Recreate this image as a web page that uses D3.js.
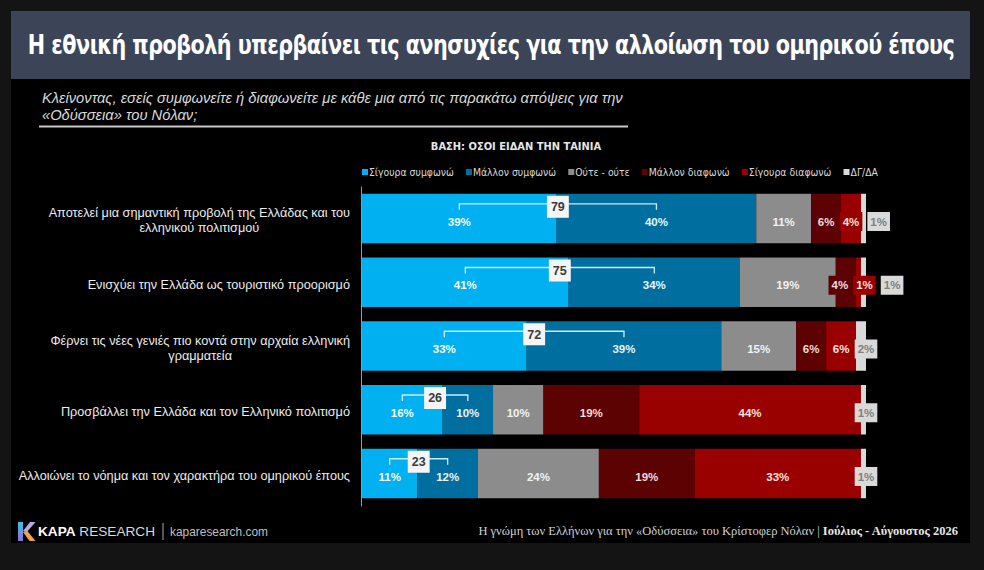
<!DOCTYPE html>
<html><head><meta charset="utf-8">
<script src="https://cdn.jsdelivr.net/npm/d3@7"></script>
<style>html,body{margin:0;padding:0;background:#141414;} svg{display:block}</style>
</head><body>
<svg id="c" width="984" height="570"></svg>
<script>
// ---------- DATA ----------
const categories = [
  "Αποτελεί μια σημαντική προβολή της Ελλάδας και του\nελληνικού πολιτισμού",
  "Ενισχύει την Ελλάδα ως τουριστικό προορισμό",
  "Φέρνει τις νέες γενιές πιο κοντά στην αρχαία ελληνική\nγραμματεία",
  "Προσβάλλει την Ελλάδα και τον Ελληνικό πολιτισμό",
  "Αλλοιώνει το νόημα και τον χαρακτήρα του ομηρικού έπους"
];
const seriesNames = ["Σίγουρα συμφωνώ", "Μάλλον συμφωνώ", "Ούτε - ούτε", "Μάλλον διαφωνώ", "Σίγουρα διαφωνώ", "ΔΓ/ΔΑ"];
const sureAgree      = [39, 41, 33, 16, 11];
const ratherAgree    = [40, 34, 39, 10, 12];
const neither        = [11, 19, 15, 10, 24];
const ratherDisagree = [6, 4, 6, 19, 19];
const sureDisagree   = [4, 1, 6, 44, 33];
const dkna           = [1, 1, 2, 1, 1];
const agreeTotal     = [79, 75, 72, 26, 23];

const titleText = "Η εθνική προβολή υπερβαίνει τις ανησυχίες για την αλλοίωση του ομηρικού έπους";
const questionLines = ["Κλείνοντας, εσείς συμφωνείτε ή διαφωνείτε με κάθε μια από τις παρακάτω απόψεις για την",
                       "«Οδύσσεια» του Νόλαν;"];
const baseText = "ΒΑΣΗ: ΟΣΟΙ ΕΙΔΑΝ ΤΗΝ ΤΑΙΝΙΑ";
const footerLeft = "Η γνώμη των Ελλήνων για την «Οδύσσεια» του Κρίστοφερ Νόλαν | ";
const footerRight = "Ιούλιος - Αύγουστος 2026";

// ---------- STYLE ----------
const colors = ["#00b0f0", "#006f9f", "#8c8c8c", "#5c0202", "#990000", "#d9d9d9"];
const labelColors = ["#f4fbff", "#e8f4fa", "#f2f2f2", "#f3dada", "#f7e0e0", "#808080"];
const condFont = "'DejaVu Sans Condensed','Liberation Sans Narrow',sans-serif";

const svg = d3.select("#c");
const W = 984, H = 570;

function fit(sel, target) {
  const w = sel.node().getComputedTextLength();
  const fs = parseFloat(sel.attr("font-size"));
  sel.attr("font-size", fs * target / w);
}
// horizontal squeeze keeping glyph height
function squeeze(sel, target, ax, ay) {
  const w = sel.node().getComputedTextLength();
  const f = Math.min(1, target / w);
  sel.attr("transform", `translate(${ax},${ay}) scale(${f},1) translate(${-ax},${-ay})`);
  return f;
}

// background slide
svg.append("rect").attr("width", W).attr("height", H).attr("fill", "#141414");
svg.append("rect").attr("x", 11).attr("y", 11).attr("width", 959).attr("height", 532).attr("fill", "#000");
svg.append("rect").attr("x", 11).attr("y", 11).attr("width", 959).attr("height", 68).attr("fill", "#3b4557");

const title = svg.append("text").attr("x", 491).attr("y", 54).attr("text-anchor", "middle")
  .attr("font-family", condFont).attr("font-weight", "bold").attr("font-size", 27)
  .attr("letter-spacing", -0.6).attr("fill", "#ffffff").text(titleText);
squeeze(title, 927, 491, 54);

const q0 = svg.append("text").attr("x", 42).attr("y", 103)
  .attr("font-family", "'Liberation Sans',Arial,sans-serif").attr("font-style", "italic")
  .attr("font-size", 13).attr("fill", "#d9d9d9").text(questionLines[0]);
fit(q0, 581);
const qfs = q0.attr("font-size");
svg.append("text").attr("x", 42).attr("y", 120)
  .attr("font-family", "'Liberation Sans',Arial,sans-serif").attr("font-style", "italic")
  .attr("font-size", qfs).attr("fill", "#d9d9d9").text(questionLines[1]);
svg.append("line").attr("x1", 39).attr("x2", 628).attr("y1", 126.5).attr("y2", 126.5)
  .attr("stroke", "#c8c8c8").attr("stroke-width", 2);

const base = svg.append("text").attr("x", 516).attr("y", 150).attr("text-anchor", "middle")
  .attr("font-family", condFont).attr("font-weight", "bold").attr("font-size", 11)
  .attr("fill", "#e6e6e6").text(baseText);
squeeze(base, 172, 516, 150);

// legend
const legend = svg.append("g");
const legTexts = seriesNames.map(n => legend.append("text").attr("y", 176)
  .attr("font-family", condFont).attr("font-size", 11).attr("fill", "#d9d9d9").text(n));
const legW = legTexts.map(t => t.node().getComputedTextLength());
const sqW = 6, sqGap = 1, itemGap = 12;
const fixed = seriesNames.length * (sqW + sqGap) + (seriesNames.length - 1) * itemGap;
const lf = Math.min(1, (516 - fixed) / d3.sum(legW));
let lx = 362;
seriesNames.forEach((n, i) => {
  legend.append("rect").attr("x", lx).attr("y", 169).attr("width", sqW).attr("height", sqW).attr("fill", colors[i]);
  const tx = lx + sqW + sqGap;
  legTexts[i].attr("x", tx).attr("transform", `translate(${tx},0) scale(${lf},1) translate(${-tx},0)`);
  lx = tx + legW[i] * lf + itemGap;
});

// ---------- CHART ----------
const table = categories.map((c, i) => ({
  cat: c, s0: sureAgree[i], s1: ratherAgree[i], s2: neither[i], s3: ratherDisagree[i], s4: sureDisagree[i], s5: dkna[i]
}));
const keys = ["s0", "s1", "s2", "s3", "s4", "s5"];
const stacked = d3.stack().keys(keys).offset(d3.stackOffsetExpand)(table);

const x = d3.scaleLinear().domain([0, 1]).range([362, 866]);
const y = d3.scaleBand().domain(categories).range([186, 506]).paddingInner(0.224).paddingOuter(0.122);
const bw = y.bandwidth();

// axis (vertical line)
const axis = svg.append("g").attr("transform", "translate(361,0)")
  .call(d3.axisLeft(y).tickSize(0).tickFormat(""));
axis.select(".domain").attr("stroke", "#9a9a9a").attr("stroke-width", 1);

// bars
stacked.forEach((layer, k) => {
  svg.append("g").selectAll("rect").data(layer).join("rect")
    .attr("x", d => x(d[0])).attr("y", d => y(d.data.cat))
    .attr("width", d => Math.max(0, x(d[1]) - x(d[0]))).attr("height", bw)
    .attr("fill", colors[k]);
});

// category labels
categories.forEach(c => {
  const lines = c.split("\n");
  const g = svg.append("g");
  const ts = lines.map(l => g.append("text").attr("font-family", "'Liberation Sans',Arial,sans-serif")
    .attr("font-size", 12.7).attr("fill", "#ececec").attr("text-anchor", "middle").text(l));
  const maxW = d3.max(ts, t => t.node().getComputedTextLength());
  const cx = 350 - maxW / 2;
  const cy = y(c) + bw / 2 + 2;
  const lh = 15;
  ts.forEach((t, i) => t.attr("x", cx).attr("y", cy + (i - (lines.length - 1) / 2) * lh).attr("dy", "0.35em"));
});

// value labels
const lblFont = "'Liberation Sans',Arial,sans-serif";
categories.forEach((c, r) => {
  const yc = y(c) + bw / 2 + 3;
  const labs = [];
  keys.forEach((k, s) => {
    const seg = stacked[s][r];
    const val = table[r][k];
    const g = svg.append("g");
    const rect = g.append("rect");
    const t = g.append("text").attr("font-family", lblFont).attr("font-weight", "bold")
      .attr("font-size", 11.5).attr("text-anchor", "middle").attr("dy", "0.35em")
      .attr("fill", labelColors[s]).text(val + "%");
    const tw = t.node().getComputedTextLength();
    const segW = x(seg[1]) - x(seg[0]);
    const isDk = s === 5;
    labs.push({g, rect, t, tw, w: tw + 6, x: isDk ? x(1) : (x(seg[0]) + x(seg[1])) / 2,
      box: isDk || tw + 4 > segW, dk: isDk, color: colors[s]});
  });
  // resolve collisions
  for (let it = 0; it < 6; it++) {
    for (let i = 1; i < labs.length; i++) {
      const p = labs[i - 1], q = labs[i];
      const gap = q.dk ? 5 : 2;
      const pw = p.box ? p.w : p.tw, qw = q.box ? q.w : q.tw;
      const ov = (p.x + pw / 2 + gap) - (q.x - qw / 2);
      if (ov > 0.01) {
        if (q.dk) { q.x += ov; }
        else { p.x -= ov / 2; q.x += ov / 2; p.box = true; q.box = true; }
      }
    }
  }
  labs.forEach(l => {
    l.t.attr("x", l.x).attr("y", yc);
    if (l.box) {
      l.rect.attr("x", l.x - l.w / 2).attr("y", yc - 9.5).attr("width", l.w).attr("height", 19).attr("fill", l.color);
    } else l.rect.remove();
  });

  // agree total bracket
  const a = stacked[0][r], b = stacked[1][r];
  const x1 = (x(a[0]) + x(a[1])) / 2, x2 = (x(b[0]) + x(b[1])) / 2;
  const top = y(c);
  const by = top + 10;
  svg.append("path").attr("d", `M${x1},${by + 6}V${by}H${x2}V${by + 6}`)
    .attr("fill", "none").attr("stroke", "#cfeaf6").attr("stroke-width", 1.3);
  const mx = (x1 + x2) / 2;
  const tg = svg.append("g");
  const tt = tg.append("text").attr("x", mx).attr("y", top + 13).attr("dy", "0.35em")
    .attr("text-anchor", "middle").attr("font-family", lblFont).attr("font-weight", "bold")
    .attr("font-size", 12.5).attr("fill", "#3b3b3b").text(agreeTotal[r]);
  const tw = tt.node().getComputedTextLength();
  tg.insert("rect", "text").attr("x", mx - (tw + 8) / 2).attr("y", top + 2).attr("width", tw + 8).attr("height", 22)
    .attr("fill", "#f5f5f5");
});

// ---------- FOOTER ----------
const defs = svg.append("defs");
const lg = defs.append("linearGradient").attr("id", "kg").attr("x1", 0).attr("y1", 0).attr("x2", 0).attr("y2", 1);
lg.append("stop").attr("offset", 0).attr("stop-color", "#3fc3e6");
lg.append("stop").attr("offset", 1).attr("stop-color", "#8d6bd6");
svg.append("rect").attr("x", 18).attr("y", 522).attr("width", 5).attr("height", 19).attr("fill", "url(#kg)");
svg.append("polygon").attr("points", "23,531 30,522 35.5,522 27,532").attr("fill", "#b9a6e8");
svg.append("polygon").attr("points", "23,532 27,530.5 35.5,541 29.5,541").attr("fill", "#f0a24a");

const kapa = svg.append("text").attr("x", 38).attr("y", 536).attr("font-family", "'Liberation Sans',Arial,sans-serif")
  .attr("font-size", 14).attr("fill", "#ffffff");
kapa.append("tspan").attr("font-weight", "bold").text("KAPA");
kapa.append("tspan").attr("fill", "#d9d9d9").text(" RESEARCH");
fit(kapa, 117);
svg.append("line").attr("x1", 163).attr("x2", 163).attr("y1", 523).attr("y2", 540).attr("stroke", "#aaaaaa").attr("stroke-width", 1);
const site = svg.append("text").attr("x", 170).attr("y", 536).attr("font-family", "'Liberation Sans',Arial,sans-serif")
  .attr("font-size", 12).attr("fill", "#bfbfbf").text("kaparesearch.com");
fit(site, 98);

const foot = svg.append("text").attr("x", 958).attr("y", 535).attr("text-anchor", "end")
  .attr("font-family", "'Liberation Serif','Times New Roman',serif").attr("font-size", 11.5).attr("fill", "#d0d0d0");
foot.append("tspan").text(footerLeft);
foot.append("tspan").attr("font-weight", "bold").attr("fill", "#e6e6e6").text(footerRight);
fit(foot, 480);
</script>
</body></html>
